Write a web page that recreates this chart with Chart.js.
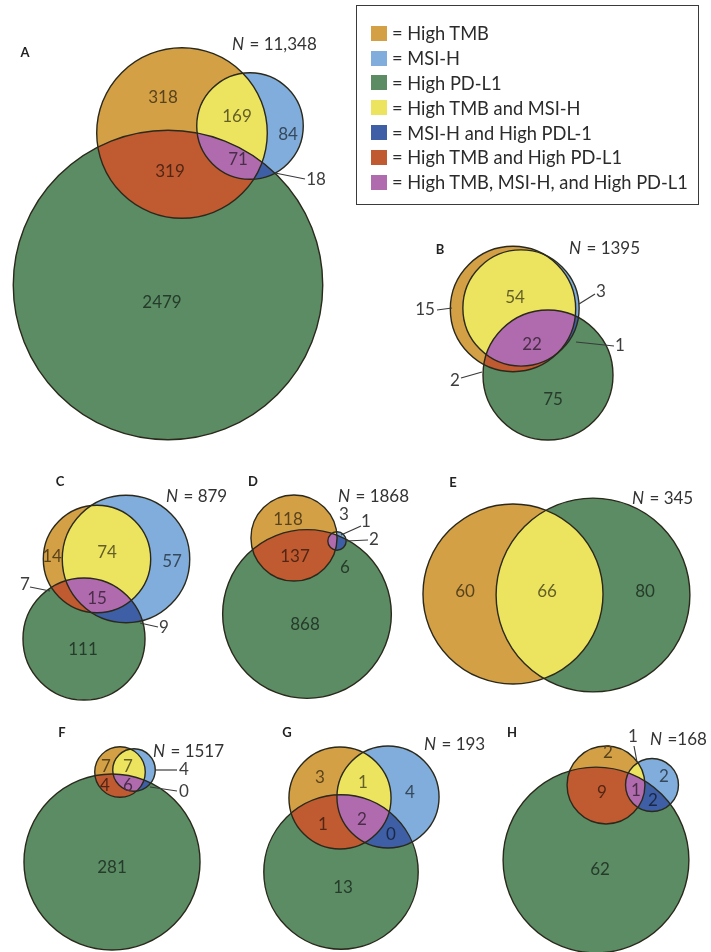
<!DOCTYPE html>
<html>
<head>
<meta charset="utf-8">
<script src="https://cdn.jsdelivr.net/npm/chart.js@4.4.1/dist/chart.umd.min.js"></script>
<style>
  html, body { margin: 0; padding: 0; background: #fff; }
  #wrap { position: relative; width: 711px; height: 952px; }
  #venn { position: absolute; left: 0; top: 0; }
  #key {
    position: absolute; left: 356px; top: 5px; width: 343px; height: 200px;
    box-sizing: border-box; border: 1.5px solid #3a3a3a; padding: 15px 0 0 14px;
    font-family: Lato, sans-serif; font-size: 18.3px; color: #2b2b2b;
  }
  .row { display: flex; align-items: center; height: 24.8px; white-space: nowrap; }
  .sw { width: 16px; height: 15px; margin-right: 5px; flex: none; }
</style>
</head>
<body>
<div id="wrap">
  <canvas id="venn" width="711" height="952"></canvas>
  <div id="key"></div>
</div>
<script>
// patients per cohort and the counts of each Venn region (null = set not shown)
const panelNames = ['A', 'B', 'C', 'D', 'E', 'F', 'G', 'H'];
const cohortN    = [11348, 1395, 879, 1868, 345, 1517, 193, 168];
const tmbOnly    = [318, 15, 14, 118, 60, 7, 3, 2];
const msiOnly    = [84, 3, 57, 1, null, 4, 4, 2];
const pdl1Only   = [2479, 75, 111, 868, 80, 281, 13, 62];
const tmbMsi     = [169, 54, 74, 3, null, 7, 1, 1];
const msiPdl1    = [18, 1, 9, 2, null, 0, 0, 2];
const tmbPdl1    = [319, 2, 7, 137, 66, 4, 1, 9];
const allThree   = [71, 22, 15, 6, null, 6, 2, 1];

const legendLabels = [
  'High TMB', 'MSI-H', 'High PD-L1', 'High TMB and MSI-H', 'MSI-H and High PDL-1',
  'High TMB and High PD-L1', 'High TMB, MSI-H, and High PD-L1'
];

const colours = {
  tmb: '#d4a046', msi: '#80addb', pd: '#5b8c64',
  tmbMsi: '#ece35f', msiPd: '#3e5fa5', tmbPd: '#c05a31', all: '#b06bae'
};
const legendColours = [colours.tmb, colours.msi, colours.pd, colours.tmbMsi,
  colours.msiPd, colours.tmbPd, colours.all];

const regions = { tmbOnly, msiOnly, pdl1Only, tmbMsi, msiPdl1, tmbPdl1, allThree };

// circle centres (canvas units), radius scale k, and where the texts sit
const layout = [
  { k: 2.88, tmb: [182, 133], msi: [250, 126], pd: [168, 285], tag: [25, 53], n: [232, 45],
    labels: [['tmbOnly', 163, 98], ['tmbMsi', 237, 117], ['msiOnly', 288, 135], ['allThree', 238, 160],
             ['tmbPdl1', 170, 172], ['pdl1Only', 162, 303], ['msiPdl1', 316, 180, [275, 173, 305, 179]]] },
  { k: 6.5, tmb: [513, 309], msi: [521, 308], pd: [548, 375], tag: [440, 250], n: [569, 249],
    labels: [['tmbMsi', 515, 298], ['allThree', 532, 345], ['pdl1Only', 553, 400],
             ['tmbOnly', 425, 310, [437, 310, 452, 308]], ['msiOnly', 601, 292, [579, 304, 595, 294]],
             ['msiPdl1', 620, 346, [576, 342, 614, 346]], ['tmbPdl1', 455, 381, [461, 378, 482, 372]]] },
  { k: 5.12, tmb: [97, 559], msi: [126, 559], pd: [84, 639], tag: [60, 482], n: [166, 497],
    labels: [['tmbOnly', 52, 557], ['tmbMsi', 107, 553], ['msiOnly', 172, 562], ['allThree', 97, 599],
             ['pdl1Only', 83, 650], ['tmbPdl1', 25, 585, [30, 587, 50, 591]],
             ['msiPdl1', 164, 628, [140, 623, 158, 627]]] },
  { k: 2.65, tmb: [294, 538], msi: [337, 541], pd: [307, 614], tag: [253, 482], n: [338, 497],
    labels: [['tmbOnly', 288, 520], ['tmbPdl1', 295, 557], ['pdl1Only', 305, 625],
             ['tmbMsi', 344, 515], ['msiOnly', 366, 522, [341, 535, 361, 526]],
             ['msiPdl1', 374, 540, [346, 541, 368, 540]], ['allThree', 345, 568]] },
  { k: 8.02, tmb: [513, 594], pd: [593, 595], tag: [453, 483], n: [632, 499], tmbPdFill: colours.tmbMsi,
    labels: [['tmbOnly', 465, 592], ['tmbPdl1', 547, 592], ['pdl1Only', 645, 592]] },
  { k: 5.16, tmb: [120, 772], msi: [134, 770], pd: [112, 862], tag: [62, 733], n: [153, 752],
    labels: [['tmbOnly', 106, 767], ['tmbMsi', 128, 767], ['tmbPdl1', 105, 786], ['allThree', 128, 786],
             ['msiOnly', 184, 770, [155, 770, 177, 770]], ['msiPdl1', 184, 792, [150, 787, 177, 791]],
             ['pdl1Only', 112, 868]] },
  { k: 19.3, tmb: [340, 798], msi: [388, 797], pd: [341, 872], tag: [287, 733], n: [424, 745],
    labels: [['tmbOnly', 320, 778], ['tmbMsi', 363, 783], ['msiOnly', 410, 793], ['tmbPdl1', 323, 825],
             ['allThree', 362, 820], ['msiPdl1', 391, 835], ['pdl1Only', 343, 888]] },
  { k: 10.8, tmb: [606, 785], msi: [652, 785], pd: [596, 860], tag: [512, 733], n: [650, 740], eq: ' =',
    labels: [['tmbOnly', 608, 753], ['tmbPdl1', 602, 793], ['allThree', 636, 791], ['msiOnly', 664, 777],
             ['msiPdl1', 653, 801], ['pdl1Only', 600, 870], ['tmbMsi', 633, 737, [634, 746, 637, 762]]] }
];

const v = a => a || 0;
const tmbTotal = panelNames.map((_, i) => v(tmbOnly[i]) + v(tmbMsi[i]) + v(tmbPdl1[i]) + v(allThree[i]));
const msiTotal = panelNames.map((_, i) => v(msiOnly[i]) + v(tmbMsi[i]) + v(msiPdl1[i]) + v(allThree[i]));
const pdTotal  = panelNames.map((_, i) => v(pdl1Only[i]) + v(msiPdl1[i]) + v(tmbPdl1[i]) + v(allThree[i]));

// one bubble per set per panel; area follows the set size
function setPoints(key, totals) {
  const pts = [];
  layout.forEach((p, i) => {
    if (!p[key] || !totals[i]) return;
    pts.push({ x: p[key][0], y: p[key][1], r: p.k * Math.sqrt(totals[i]), panel: i });
  });
  return pts;
}

function outline(label, key, data) {
  return {
    label, setKey: key, data, clip: false,
    backgroundColor: 'rgba(0,0,0,0)', borderColor: '#2a291c', borderWidth: 1.4,
    hoverBorderWidth: 1.4, hoverRadius: 0
  };
}

function collectCircles(chart) {
  const out = panelNames.map(() => ({}));
  chart.data.datasets.forEach((ds, d) => {
    chart.getDatasetMeta(d).data.forEach((el, j) => {
      out[ds.data[j].panel][ds.setKey] = { x: el.x, y: el.y, r: el.options.radius };
    });
  });
  return out;
}

function circlePath(ctx, c) {
  ctx.beginPath();
  ctx.arc(c.x, c.y, c.r, 0, Math.PI * 2);
}

function paint(ctx, list, fill) {
  if (list.some(c => !c)) return;
  ctx.save();
  list.slice(0, -1).forEach(c => { circlePath(ctx, c); ctx.clip(); });
  circlePath(ctx, list[list.length - 1]);
  ctx.fillStyle = fill;
  ctx.fill();
  ctx.restore();
}

function darker(hex, f) {
  const n = parseInt(hex.slice(1), 16);
  const r = Math.round(((n >> 16) & 255) * f), g = Math.round(((n >> 8) & 255) * f), b = Math.round((n & 255) * f);
  return `rgb(${r},${g},${b})`;
}

function regionFill(c, p, x, y) {
  const inside = s => c[s] && Math.hypot(x - c[s].x, y - c[s].y) < c[s].r;
  const m = (inside('tmb') ? 1 : 0) + (inside('msi') ? 2 : 0) + (inside('pd') ? 4 : 0);
  return [null, colours.tmb, colours.msi, colours.tmbMsi, colours.pd,
    p.tmbPdFill || colours.tmbPd, colours.msiPd, colours.all][m];
}

const vennPlugin = {
  id: 'venn',
  beforeDatasetsDraw(chart) {
    const ctx = chart.ctx;
    collectCircles(chart).forEach((c, i) => {
      paint(ctx, [c.pd], colours.pd);
      paint(ctx, [c.tmb], colours.tmb);
      paint(ctx, [c.msi], colours.msi);
      paint(ctx, [c.tmb, c.msi], colours.tmbMsi);
      paint(ctx, [c.msi, c.pd], colours.msiPd);
      paint(ctx, [c.tmb, c.pd], layout[i].tmbPdFill || colours.tmbPd);
      paint(ctx, [c.tmb, c.msi, c.pd], colours.all);
    });
  },
  afterDatasetsDraw(chart) {
    const ctx = chart.ctx;
    const sx = chart.scales.x, sy = chart.scales.y;
    const circles = collectCircles(chart);
    ctx.save();
    ctx.textBaseline = 'middle';
    layout.forEach((p, i) => {
      // panel letter
      ctx.textAlign = 'center';
      ctx.fillStyle = '#222';
      ctx.font = 'bold 13px Lato, sans-serif';
      ctx.fillText(panelNames[i], sx.getPixelForValue(p.tag[0]), sy.getPixelForValue(p.tag[1]));

      // N = ...
      const nx = sx.getPixelForValue(p.n[0]), ny = sy.getPixelForValue(p.n[1]);
      ctx.textAlign = 'left';
      ctx.fillStyle = '#333';
      ctx.font = 'italic 17px Lato, sans-serif';
      ctx.fillText('N', nx, ny);
      const w = ctx.measureText('N').width;
      ctx.font = '17px Lato, sans-serif';
      const count = cohortN[i] >= 10000 ? cohortN[i].toLocaleString('en-US') : String(cohortN[i]);
      ctx.fillText((p.eq || ' = ') + count, nx + w + 1, ny);

      // region counts
      ctx.textAlign = 'center';
      ctx.font = '17px Lato, sans-serif';
      p.labels.forEach(([key, x, y, lead]) => {
        const value = regions[key][i];
        if (value === null) return;
        const px = sx.getPixelForValue(x), py = sy.getPixelForValue(y);
        if (lead) {
          ctx.strokeStyle = '#3a3a3a';
          ctx.lineWidth = 1.2;
          ctx.beginPath();
          ctx.moveTo(sx.getPixelForValue(lead[0]), sy.getPixelForValue(lead[1]));
          ctx.lineTo(sx.getPixelForValue(lead[2]), sy.getPixelForValue(lead[3]));
          ctx.stroke();
        }
        const fill = regionFill(circles[i], p, px, py);
        ctx.fillStyle = fill ? darker(fill, 0.42) : '#3d3d3d';
        ctx.fillText(String(value), px, py);
      });
    });
    ctx.restore();
  }
};

new Chart(document.getElementById('venn'), {
  type: 'bubble',
  data: {
    datasets: [
      outline('High PD-L1', 'pd', setPoints('pd', pdTotal)),
      outline('High TMB', 'tmb', setPoints('tmb', tmbTotal)),
      outline('MSI-H', 'msi', setPoints('msi', msiTotal))
    ]
  },
  options: {
    responsive: false,
    animation: false,
    events: [],
    layout: { padding: 0, autoPadding: false },
    scales: {
      x: { type: 'linear', min: 0, max: 711, display: false },
      y: { type: 'linear', min: 0, max: 952, reverse: true, display: false }
    },
    plugins: { legend: { display: false }, tooltip: { enabled: false } }
  },
  plugins: [vennPlugin]
});

// key box
const key = document.getElementById('key');
legendLabels.forEach((text, i) => {
  const row = document.createElement('div');
  row.className = 'row';
  const sw = document.createElement('span');
  sw.className = 'sw';
  sw.style.background = legendColours[i];
  row.appendChild(sw);
  row.appendChild(document.createTextNode('= ' + text));
  key.appendChild(row);
});
</script>
</body>
</html>
